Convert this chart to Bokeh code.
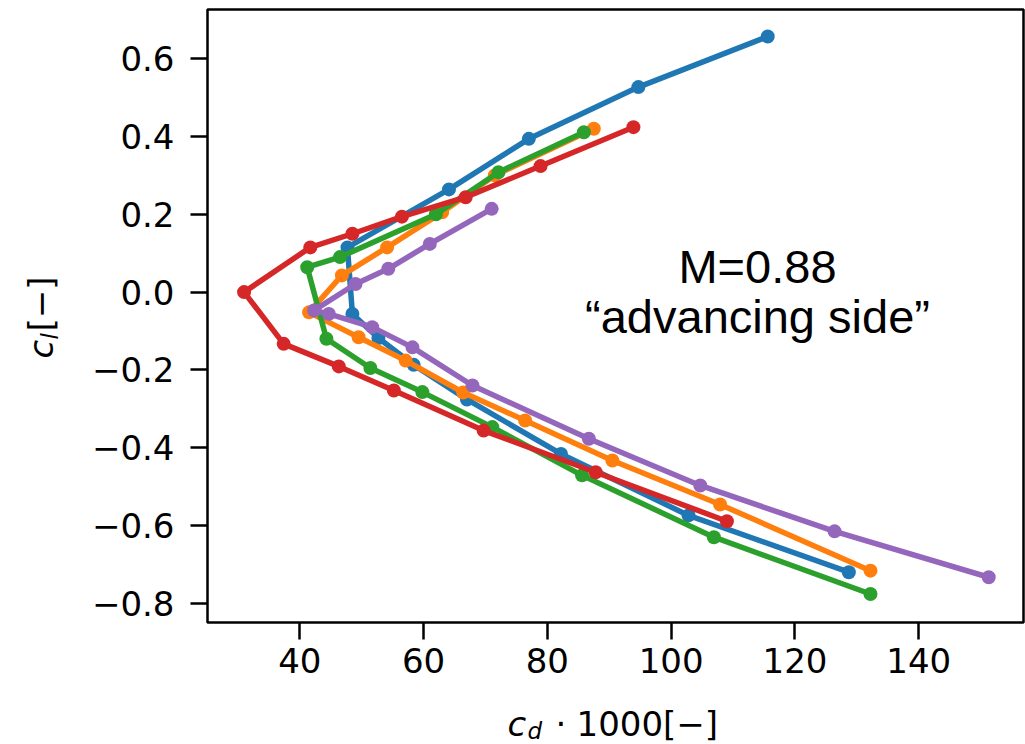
import math
from bokeh.plotting import figure
from bokeh.models import Range1d, FixedTicker, CustomJSTickFormatter, Label
from bokeh.embed import file_html
from bokeh.resources import INLINE

# ---- data (cd*1000, cl) ----
cd_s1 = [115.6, 94.7, 77.0, 64.1, 47.7, 48.5, 52.7, 58.4, 67.0, 82.2, 102.8, 128.7]
cl_s1 = [0.657, 0.527, 0.394, 0.264, 0.115, -0.056, -0.118, -0.187, -0.276, -0.416, -0.574, -0.720]

cd_s2 = [87.5, 71.5, 63.0, 54.1, 46.8, 41.5, 49.5, 57.1, 66.4, 76.4, 90.5, 107.9, 132.2]
cl_s2 = [0.420, 0.300, 0.205, 0.115, 0.043, -0.052, -0.116, -0.176, -0.258, -0.330, -0.433, -0.546, -0.716]

cd_s3 = [85.9, 72.1, 62.0, 46.5, 41.2, 44.3, 51.4, 59.8, 71.1, 85.6, 106.9, 132.2]
cl_s3 = [0.411, 0.308, 0.200, 0.090, 0.064, -0.120, -0.195, -0.257, -0.347, -0.471, -0.630, -0.776]

cd_s4 = [93.9, 78.9, 66.8, 56.5, 48.5, 41.7, 31.0, 37.4, 46.3, 55.2, 69.7, 87.8, 109.0]
cl_s4 = [0.424, 0.324, 0.244, 0.194, 0.150, 0.115, 0.000, -0.133, -0.191, -0.253, -0.356, -0.463, -0.589]

cd_s5 = [71.0, 61.0, 54.3, 49.0, 42.3, 44.7, 51.7, 58.2, 67.9, 86.7, 104.7, 126.4, 151.3]
cl_s5 = [0.214, 0.124, 0.060, 0.021, -0.047, -0.056, -0.090, -0.142, -0.240, -0.377, -0.497, -0.615, -0.733]

series_colors = ["#1f77b4", "#ff7f0e", "#2ca02c", "#d62728", "#9467bd"]
x_ticks = [40, 60, 80, 100, 120, 140]
y_ticks = [-0.8, -0.6, -0.4, -0.2, 0.0, 0.2, 0.4, 0.6]
note_line1 = "M=0.88"
note_line2 = "\u201cadvancing side\u201d"

# ---- layout (canvas pixels) ----
W, H = 1025, 744
FL, FR, FT, FB = 207, 1023, 9, 622
X0, X1 = 25.09, 156.92
Y0, Y1 = -0.8493, 0.7265
MID = 0.346   # baseline offset (in em) below the middle of the text box


def dx(cx):
    return X0 + (cx - FL) * (X1 - X0) / (FR - FL)


def dy(cy):
    return Y1 - (cy - FT) * (Y1 - Y0) / (FB - FT)


p = figure(width=W, height=H, output_backend="svg", toolbar_location=None,
           x_range=Range1d(X0, X1), y_range=Range1d(Y0, Y1),
           min_border_left=FL, min_border_right=W - FR,
           min_border_top=FT, min_border_bottom=H - FB)
p.grid.visible = False
p.background_fill_color = "white"
p.border_fill_color = "white"
p.outline_line_color = "black"
p.outline_line_width = 2.5

for ax in (p.xaxis[0], p.yaxis[0]):
    ax.axis_line_color = None
    ax.major_tick_line_color = "black"
    ax.major_tick_line_width = 2.5
    ax.major_tick_out = 17
    ax.major_tick_in = 0
    ax.minor_tick_line_color = None
    ax.major_label_text_font = "DejaVu Sans"
    ax.major_label_text_font_size = "34px"
    ax.major_label_text_color = "black"

p.xaxis.ticker = FixedTicker(ticks=x_ticks)
p.yaxis.ticker = FixedTicker(ticks=y_ticks)
p.xaxis.formatter = CustomJSTickFormatter(code="return tick.toFixed(0);")
p.yaxis.formatter = CustomJSTickFormatter(code="return tick.toFixed(1).replace('-', '\\u2212');")
p.xaxis.major_label_standoff = 8
p.yaxis.major_label_standoff = 16

all_cd = [cd_s1, cd_s2, cd_s3, cd_s4, cd_s5]
all_cl = [cl_s1, cl_s2, cl_s3, cl_s4, cl_s5]
for cd, cl, col in zip(all_cd, all_cl, series_colors):
    p.line(cd, cl, line_color=col, line_width=5.5, line_join="round", line_cap="round")
    p.scatter(cd, cl, size=14, fill_color=col, line_color=col, line_width=0)

# annotation (baselines at canvas y 282 and 332, font 47px, anchored at box middle)
cx_note = 757
for txt, base in ((note_line1, 282), (note_line2, 332)):
    p.add_layout(Label(x=dx(cx_note), y=dy(base - MID * 47), text=txt, text_align="center",
                       text_baseline="middle", text_font="Liberation Sans",
                       text_font_size="47px", text_color="black"))


def piece(txt, cx, cy, size, italic=False, angle=0.0):
    return Label(x=dx(cx), y=dy(cy), text=txt, angle=angle, text_font="DejaVu Sans",
                 text_font_size="%dpx" % size, text_font_style="italic" if italic else "normal",
                 text_color="black", text_baseline="middle", text_align="left")


# Axis-label pieces live in side panels (not clipped by the frame); they are
# positioned through the frame's scales, and spread over the two panels so the
# panels keep the reference's border sizes.
xl_base = 735
yl_base = 52
ang = math.pi / 2
# x label: c_d · 1000[−]
p.add_layout(piece("c", 507, xl_base - MID * 34, 34, italic=True), "left")
p.add_layout(piece("d", 527, xl_base + 3 - MID * 23, 23, italic=True), "left")
p.add_layout(piece("\u00b7", 555, xl_base - MID * 34, 34), "left")
p.add_layout(piece("1000[\u2212]", 576, xl_base - MID * 34, 34), "below")
# y label: c_l[−] (rotated, text "up" points to the left)
p.add_layout(piece("c", yl_base - MID * 34, 358, 34, italic=True, angle=ang), "below")
p.add_layout(piece("l", yl_base + 5 - MID * 23, 339, 23, italic=True, angle=ang), "below")
p.add_layout(piece("[\u2212]", yl_base - MID * 34, 331, 34, angle=ang), "left")

open("out.html", "w").write(file_html(p, INLINE))
